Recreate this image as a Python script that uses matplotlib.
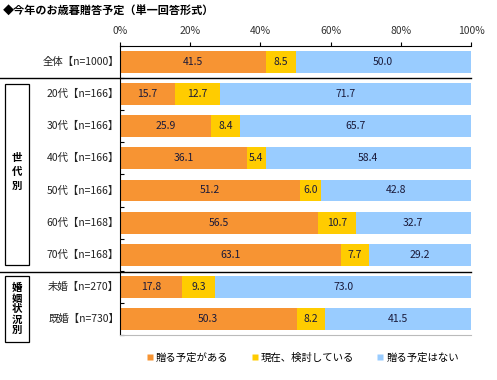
import numpy as np
import matplotlib
matplotlib.use('Agg')
import matplotlib.pyplot as plt
from matplotlib.lines import Line2D
from matplotlib.patches import Rectangle

plt.rcParams['font.family'] = ['Noto Sans CJK JP', 'DejaVu Sans']

# データ
categories = ['全体【n=1000】', '20代【n=166】', '30代【n=166】', '40代【n=166】',
              '50代【n=166】', '60代【n=168】', '70代【n=168】',
              '未婚【n=270】', '既婚【n=730】']
yes = [41.5, 15.7, 25.9, 36.1, 51.2, 56.5, 63.1, 17.8, 50.3]
considering = [8.5, 12.7, 8.4, 5.4, 6.0, 10.7, 7.7, 9.3, 8.2]
no = [50.0, 71.7, 65.7, 58.4, 42.8, 32.7, 29.2, 73.0, 41.5]
series_names = ['贈る予定がある', '現在、検討している', '贈る予定はない']
colors = ['#F79433', '#FFCC00', '#99CCFF']
xticks = [0, 20, 40, 60, 80, 100]

W, H = 497, 380
fig = plt.figure(figsize=(W / 100, H / 100), dpi=100)
ax = fig.add_axes([120 / W, 1 - 335 / H, 351 / W, 289 / H])

n = len(categories)
y = np.arange(n)
left = np.zeros(n)
for vals, col in zip([yes, considering, no], colors):
    vals = np.array(vals)
    ax.barh(y, vals, left=left, height=0.68, color=col, edgecolor='none')
    for yi, l, v in zip(y, left, vals):
        ax.text(l + v / 2, yi, f'{v:.1f}', ha='center', va='center',
                fontsize=7.5, color='#1a1a3a')
    left = left + vals

ax.set_ylim(n - 0.5, -0.5)
ax.set_xlim(0, 100)

ax.xaxis.tick_top()
ax.set_xticks(xticks)
ax.set_xticklabels([f'{t}%' for t in xticks], fontsize=7.5, color='#333333')
ax.tick_params(axis='x', direction='out', length=3, pad=4, color='black')

ax.set_yticks(np.arange(-0.5, n, 1.0))
ax.set_yticklabels([])
ax.tick_params(axis='y', direction='in', length=3, color='black')
for yi, c in zip(y, categories):
    ax.text(-0.3, yi, c, ha='right', va='center', fontsize=7.5, color='#222222')

ax.spines['right'].set_visible(False)
ax.spines['bottom'].set_color('#bbbbbb')
ax.spines['top'].set_color('black')
ax.spines['left'].set_color('black')

# 区切り線
for yy in [78, 271.5]:
    fig.add_artist(Line2D([0, 471 / W], [1 - yy / H, 1 - yy / H],
                          color='black', lw=1.0))

# 左側のグループ枠
for (y0, y1, label) in [(84, 265, '世代別'), (276, 342, '婚姻状況別')]:
    fig.add_artist(Rectangle((5 / W, 1 - y1 / H), 24 / W, (y1 - y0) / H,
                             fill=False, ec='black', lw=0.9))
fig.text(17 / W, 1 - 172 / H, '世\n代\n別', ha='center', va='center',
         fontsize=7.5, fontweight='bold', linespacing=1.5)
fig.text(17 / W, 1 - 309 / H, '婚\n姻\n状\n況\n別', ha='center', va='center',
         fontsize=7.5, fontweight='bold', linespacing=1.05)

fig.text(3 / W, 1 - 11 / H, '◆今年のお歳暮贈答予定（単一回答形式）',
         ha='left', va='center', fontsize=8, fontweight='bold')

handles = [Line2D([0], [0], marker='s', color='none', markerfacecolor=c,
                  markeredgecolor='none', markersize=4) for c in colors]
fig.legend(handles, series_names, loc='center', ncol=3,
           bbox_to_anchor=(303 / W, 1 - 358 / H), frameon=False,
           fontsize=7.5, handlelength=0.6, handletextpad=0.3,
           columnspacing=2.2)

fig.savefig('out.png', dpi=100)
